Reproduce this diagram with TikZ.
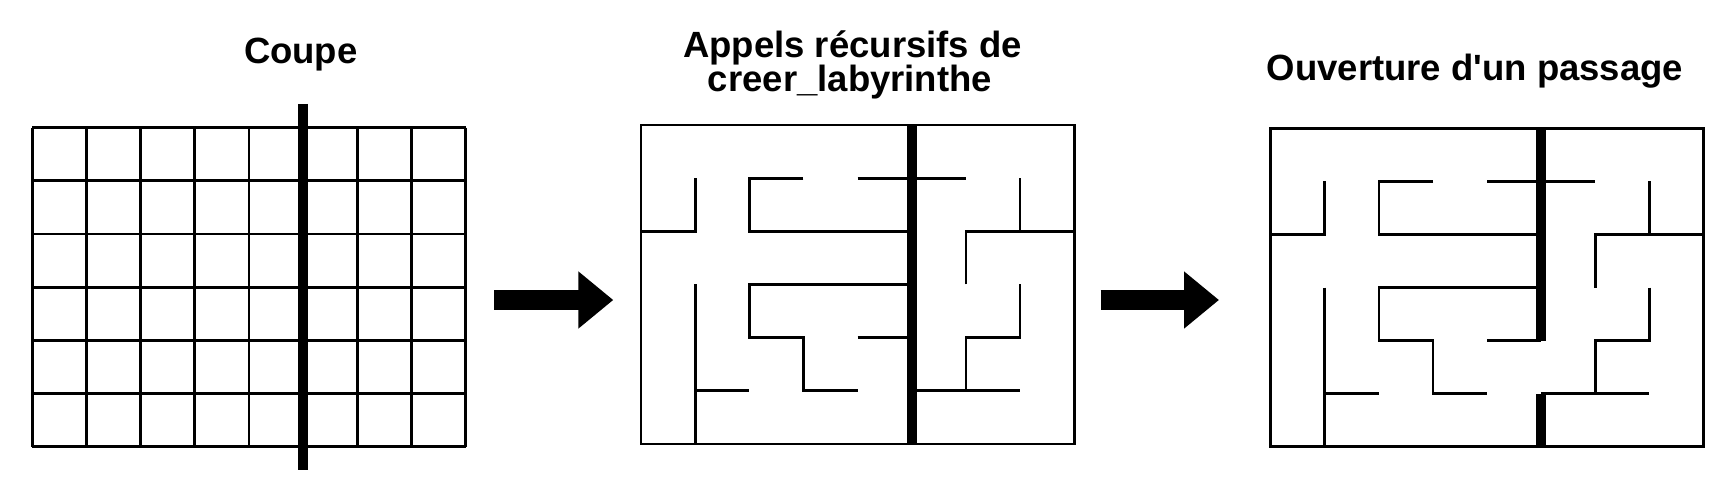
\documentclass[tikz,border=0pt]{standalone}
\usepackage{fontspec}
\setmainfont{Liberation Sans}
\usetikzlibrary{arrows.meta}
\newcommand{\mazewalls}{%
\draw[wall] (0,2) -- (1,2) -- (1,1);
\draw[wall] (3,1) -- (2,1) -- (2,2) -- (5,2);
\draw[wall] (4,1) -- (6,1);
\draw[wall] (7,1) -- (7,2);
\draw[wall] (6,3) -- (6,2) -- (8,2);
\draw[wall] (5,3) -- (2,3) -- (2,4) -- (3,4) -- (3,5) -- (4,5);
\draw[wall] (4,4) -- (5,4);
\draw[wall] (1,3) -- (1,6);
\draw[wall] (1,5) -- (2,5);
\draw[wall] (7,3) -- (7,4) -- (6,4) -- (6,5);
\draw[wall] (5,5) -- (7,5);
}
\begin{document}
\begin{tikzpicture}[x=1pt,y=-1pt,
  wall/.style={draw=black,line width=2.8pt,line join=miter},
  cut/.style={draw=black,line width=9.5pt},
  blockarrow/.style={line width=20pt,-{Triangle[length=35pt,width=55pt]}},
  title/.style={anchor=base,inner sep=0pt,outer sep=0pt,font=\fontsize{36.5}{40}\selectfont\bfseries}]
\definecolor{fillColor}{RGB}{255,255,255}
\path[use as bounding box,fill=fillColor] (0,0) rectangle (1733,477);

\node[title] (coupe) at (300.8,63.3) {Coupe};
\node[title] (appels) at (852.5,57.3) {Appels récursifs de};
\node[title] (creer) at (850,91.7) {creer\_labyrinthe};
\node[title] (ouverture) at (1475,80) {Ouverture d\textquotesingle un passage};

\begin{scope}[shift={(32.3,127.7)},x=54.15pt,y=-53.15pt]
\foreach \i in {0,...,8}
  \draw[wall] (\i,0) -- (\i,6);
\foreach \j in {0,...,6}
  \draw[wall] (0,\j) -- (8,\j);
\draw[cut] (5,-0.45) -- (5,6.44);
\end{scope}

\begin{scope}[shift={(641,125)},x=54.15pt,y=-53.15pt]
\draw[wall] (0,0) rectangle (8,6);
\mazewalls
\draw[cut] (5,0) -- (5,6);
\end{scope}

\begin{scope}[shift={(1270.7,128.3)},x=54.1pt,y=-53.07pt]
\draw[wall] (0,0) rectangle (8,6);
\mazewalls
\draw[cut] (5,0) -- (5,4);
\draw[cut] (5,5) -- (5,6);
\end{scope}

\coordinate (arr1a) at (494.3,300);
\coordinate (arr1b) at (613.3,300);
\coordinate (arr2a) at (1100.7,300);
\coordinate (arr2b) at (1219,300);
\draw[blockarrow] (arr1a) -- (arr1b);
\draw[blockarrow] (arr2a) -- (arr2b);
\end{tikzpicture}
\end{document}
